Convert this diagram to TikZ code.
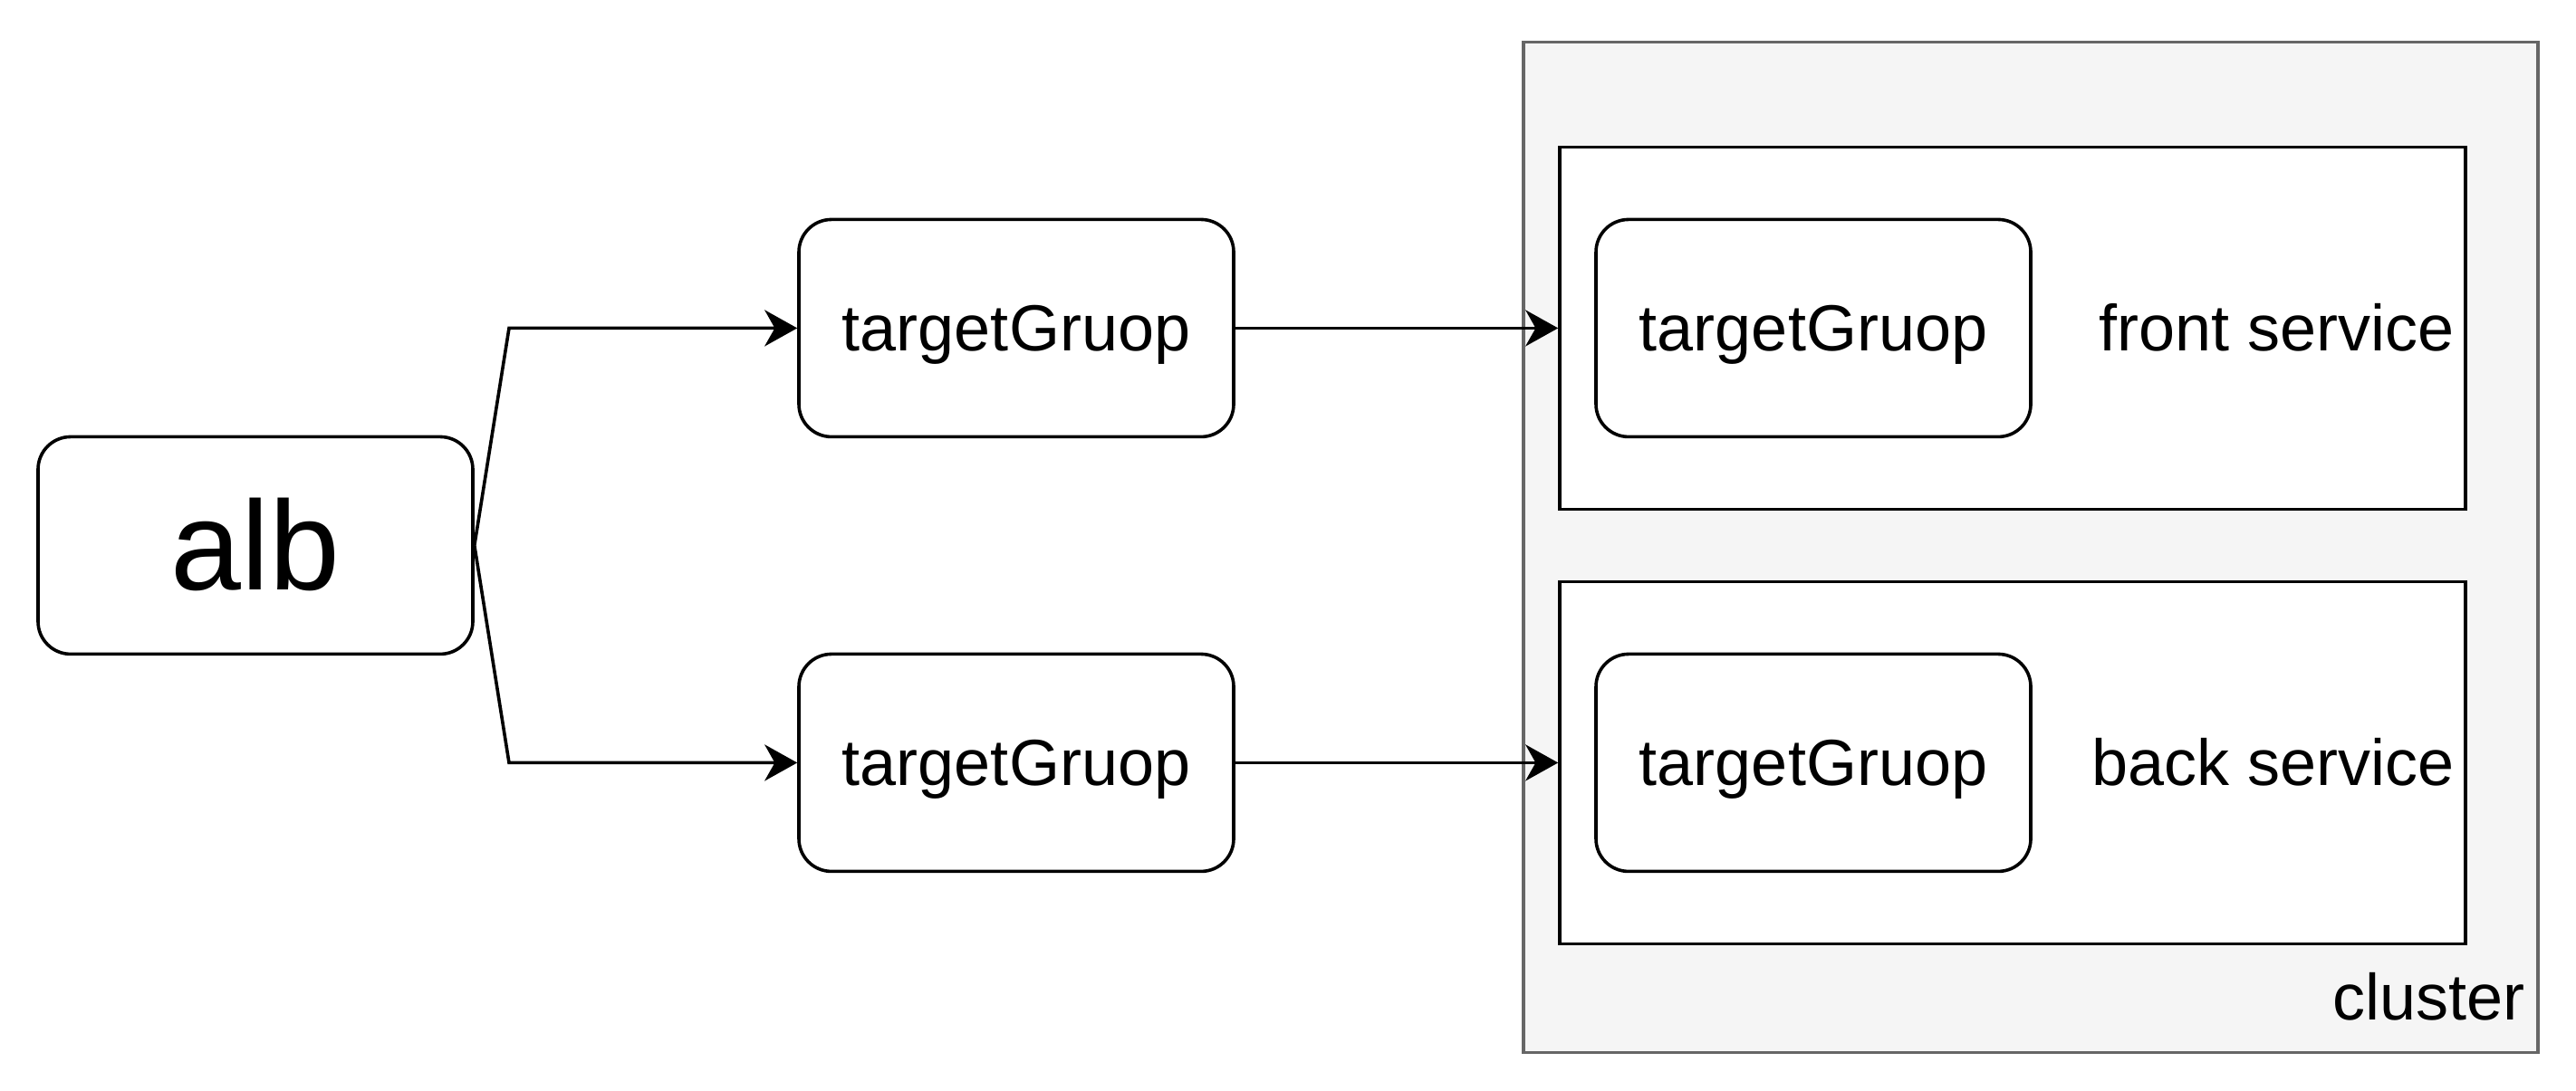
\documentclass[tikz,border=0pt]{standalone}
\usepackage{fontspec}
\setmainfont{Liberation Sans}
\usetikzlibrary{arrows.meta}
\begin{document}
\begin{tikzpicture}[x=1pt,y=-1pt,
  lw/.style={line width=0.9pt},
  rbox/.style={lw, draw=black, fill=white, rounded corners=9pt, minimum width=120pt, minimum height=60pt, inner sep=0pt, font=\fontsize{18}{21}\selectfont, text height=16.3pt, text depth=3.8pt},
  sbox/.style={lw, draw=black, fill=white, minimum width=250pt, minimum height=100pt, inner sep=0pt},
  lab/.style={inner sep=0pt, font=\fontsize{18}{21}\selectfont, text height=16.3pt, text depth=3.8pt},
  arr/.style={lw, -{Stealth[length=9pt, width=10pt, inset=2.8pt]}}
]
\useasboundingbox (0,-0.6) rectangle (711,300.4);
% cluster
\node[draw=black!60, fill=black!4, line width=0.9pt, minimum width=280pt, minimum height=279pt, inner sep=0pt] (cluster) at (560.5,150.5) {};
\node[lab, anchor=base east] (clusterlab) at (697,281) {cluster};
% services
\node[sbox] (front) at (555.5,90) {};
\node[sbox] (back) at (555.5,210) {};
\node[lab, anchor=east] (frontlab) at (677.5,90) {front service};
\node[lab, anchor=east] (backlab) at (677.5,210) {back service};
% inner target groups
\node[rbox] (itg1) at (500.5,90) {targetGruop};
\node[rbox] (itg2) at (500.5,210) {targetGruop};
% outer target groups
\node[rbox] (tg1) at (280.5,90) {targetGruop};
\node[rbox] (tg2) at (280.5,210) {targetGruop};
% alb
\node[rbox, font=\fontsize{35}{40}\selectfont, text height=31.7pt, text depth=7.4pt] (alb) at (70.5,150) {alb};
% connectors
\coordinate (j1) at (140.5,90);
\coordinate (j2) at (140.5,210);
\draw[arr] (alb.east) -- (j1) -- (tg1.west);
\draw[arr] (alb.east) -- (j2) -- (tg2.west);
\draw[arr] (tg1.east) -- (front.west);
\draw[arr] (tg2.east) -- (back.west);
\end{tikzpicture}
\end{document}
